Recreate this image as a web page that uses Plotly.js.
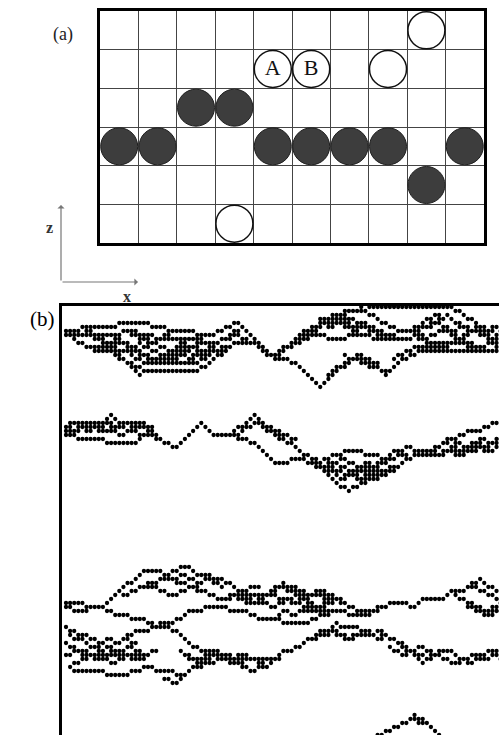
<!DOCTYPE html>
<html><head><meta charset="utf-8">
<script src="https://cdn.plot.ly/plotly-3.0.1.min.js"></script>
<style>html,body{margin:0;padding:0;background:#fff}#chart{width:499px;height:735px}</style>
</head><body><div id="chart"></div>
<script>
// ---------- Panel (a): lattice sites (column, row from bottom) ----------
const filledCol = [0,1,4,5,6,7,9,2,3,8];
const filledRow = [2,2,2,2,2,2,2,3,3,1];
const openCol = [8,4,5,7,3];
const openRow = [5,4,4,4,0];
const openText = ["","A","B","",""];

// ---------- Panel (b): strands [startColumn, startRow, steps] ----------
// steps: '-' same row, 'u' one row up, 'd' one row down (one column per step)
const band1Strands = [
  [0,6,"---u--- -----u---- ---d-- -d-- ----d---- u-u-u- ddddddddd uuu-uu-uu-uuuu --u-----u- ------------------ -d-dd-dd-d-d"],
  [0,7,"-dd-d-d ----- dddddd u---- -------- -u- uu u-u uu ----- ddd --d-- d-d ddddd uuuu u-u u-u d-dd dd uuu u-u -u-- -----------------"],
  [0,7,"----- -d-d ----- dd- d-d ----- uu- --d-- u-u uu- -u- d-d- ddd-"],
  [2,8,"d-d- ---- ddd- d-d- u--- ------ ---- u-u u-u --"],
  [5,6,"-d-- --- -u-- -d-- -d-- -------- -d-- -u-u u-"],
  [10,9,"d-d- -u-u d-d- d--- u-u- -d-d"],
  [14,6,"-d-d-d -u-u -d-d-d -u--"],
  [8,8,"-d-u-d-dd-u-d-d-u-u-d-u-d-"],
  [16,12,"d-u-d-u-d--u-d-u-"],
  [20,8,"d-d-d-d-u-u-u-d-d-"],
  [52,11,"u-uu-u-uu-u-u- ---- d-dd -d-d-- ---- uuu- u-u-u dd-d-d-d-d-d"],
  [56,9,"-u-u-- -d-- --u--- --d--- ----- -u- d-d- ----- --d-- --u--"],
  [60,6,"u-u- uu-- d-d- -d-d -d--"],
  [57,7,"u-u-u-d-u-d-d-u-"],
  [62,3,"-d-u-d-d-u-d-"],
  [72,0,"dd-dd-d -d-- -u-u u-u-"],
  [64,17,"uu-u u--- d-d -d-"],
  [66,15,"-u-u- d-d"],
  [68,12,"d-u-d-d-"],
  [80,13,"u-u-u- ------ -d-- --u--d--u"],
  [85,6,"d-d u-u- -d-d u-u- -d-d-"],
  [86,8,"-d-d--u-u--d-d--u-u"],
  [87,4,"d-u-d-d-u-d-u-d-u-d-"]
];
const band2Strands = [
  [0,30,"-u-- ----- uu dd ------ dd dd d-d- uu uu uu dd d- --- uu- uuu ddd- dd dd-d dd-d d- u-u- -u-- --d-- -d- uu- -u- d- ---- uu- u-u- u--- u-u-"],
  [0,32,"--d--- ---d-- ----- uu- -d-"],
  [40,32,"-d-- d-dd ddd --- u-- -d- d-d ddd d-d u-u -u-- u-u- uuu -u- ---- --u-- ----- u-u--"],
  [0,31,"---u---d--u---d--d---"],
  [3,30,"-d-u--d--d-u-u--d-"],
  [1,29,"-d-u-d--u-d-u-d-u-d-"],
  [42,32,"uu-u-dd-dd-d-"],
  [45,28,"d-dd-d-dd-d"],
  [47,29,"-d-d-d-d-"],
  [60,38,"-dd-u-u-d-dd-u-u--u-u--"],
  [62,40,"-d-dd-u--d-u-u--u-"],
  [64,39,"dd-d-u-u-dd-u--u-"],
  [66,41,"u-d-u-u-d-d-u-"],
  [67,43,"-u-d-u-u-d-"],
  [90,35,"-d-u-d-u-u-d-u-u"],
  [92,34,"u-d-d-u-u-d-u"],
  [88,36,"-d--u-d--u-u-d--u"]
];
const band3Strands = [
  [0,74,"----d---- uuu uu u- uu u- -- -d- u- u-- dd- --d- -d- dd d-- ---- uu-u d-d-d ----d--- d-d -d-- -- u--u --- -d- uu ----- uu --- uu- u dd-d"],
  [0,75,"-d---u--- d-d- --d-- -d- d-- u-u- uu- --u--- --d--- -d-d ---- -d-- ---- u-u-- u-- -d-- --- u-"],
  [14,72,"-u-u--u-u---d--d-d--d-d---u-d--d---"],
  [20,69,"d-d-d--u-u--d-d-d---u-u-u--"],
  [24,67,"-d-u-d-d-u-d-d"],
  [40,72,"-d-d--u-u--d--"],
  [50,71,"-u-d-d-d-u-u-d-d-"],
  [50,75,"-u-u-d-d-d-u-u-"],
  [52,77,"u-d-u--u-d--"],
  [54,73,"d-u-d-d-u-"],
  [56,70,"d-d-u-d-"],
  [95,72,"d-d-d-d-u-u"],
  [97,73,"dd-d-d-u-"],
  [99,70,"-d-d-d-d"],
  [98,75,"-d-d-u-"]
];
const band4Strands = [
  [0,80,"d- ddd d- -d u- u- uu- u- -- u-u- dd-d ddd -d- --d- --d--- ----- -- uu-- u-u u- uu- -uu d---- dd- -u- dd- dd d- dd d uu -u--- dd -d- uu- u--"],
  [1,90,"d- ------ d-- --- u-- u- -d- --- d-- uu-- u-- u-- d-- d-d- u-- uu-"],
  [24,93,"-d-u"],
  [0,84,"d-d--u-d-d--u-u-d-d-u-"],
  [0,87,"-u-d--d-u--u-d-d--u-"],
  [2,89,"-u-u--d-d-u-u--d-"],
  [4,86,"d-d-u-u-d--d-u-"],
  [1,82,"d-u-d-d-u-d-u-d-"],
  [28,86,"d-d--u-u-d-d-u--d-d-u-"],
  [30,88,"-d-u-u--d-d--u-"],
  [61,83,"u-u-d-d-u-u-d-d-"],
  [64,82,"u-d-d-u-u-"],
  [77,82,"-d-d-dd-d-u-"],
  [79,85,"d-d-u-u-d-"],
  [88,88,"-u-d-d--u-u-d--u-d-"]
];
const band5Strands = [
  [76,107,"-u-u-u-uu d-ddd d"],
  [84,103,"-d--d"]
];

function strandDots(list){
  const xs=[], ys=[];
  list.forEach(s=>{
    let c=s[0], r=s[1];
    xs.push(c); ys.push(r);
    for (const ch of s[2]) {
      if (ch===' ') continue;
      c++;
      if (ch==='u') r--; else if (ch==='d') r++;
      xs.push(c); ys.push(r);
    }
  });
  return {xs, ys};
}
const seen = new Set(); const dotX=[], dotY=[];
[band1Strands,band2Strands,band3Strands,band4Strands,band5Strands].forEach(b=>{
  const d = strandDots(b);
  d.xs.forEach((x,i)=>{ const k=x+','+d.ys[i]; if(!seen.has(k)){seen.add(k); dotX.push(x); dotY.push(d.ys[i]);} });
});

const serif = 'Liberation Serif, DejaVu Serif, serif';
const traces = [
  {type:'scatter', mode:'markers', x:filledCol.map(c=>c+0.5), y:filledRow.map(r=>r+0.5),
   xaxis:'x2', yaxis:'y2', hoverinfo:'skip',
   marker:{size:37, color:'#3d3d3d', line:{color:'#1e1e1e', width:1}}},
  {type:'scatter', mode:'markers+text', x:openCol.map(c=>c+0.5), y:openRow.map(r=>r+0.5),
   text:openText, textposition:'middle center', textfont:{family:serif, size:22, color:'#111'},
   xaxis:'x2', yaxis:'y2', hoverinfo:'skip',
   marker:{size:37, color:'#ffffff', line:{color:'#111', width:1.5}}},
  {type:'scatter', mode:'markers', x:dotX, y:dotY, xaxis:'x', yaxis:'y', hoverinfo:'skip',
   marker:{size:4.3, color:'#000'}}
];

const layout = {
  width:499, height:735, margin:{l:0,r:0,t:0,b:0},
  paper_bgcolor:'#fff', plot_bgcolor:'rgba(0,0,0,0)', showlegend:false,
  xaxis2:{domain:[100/499,484/499], anchor:'y2', range:[0,10], dtick:1, showgrid:true, gridcolor:'#444', gridwidth:1,
          zeroline:false, showticklabels:false, ticks:'', showline:true, mirror:true, linecolor:'#000', linewidth:3},
  yaxis2:{domain:[1-243/735,1-11/735], anchor:'x2', range:[0,6], dtick:1, showgrid:true, gridcolor:'#444', gridwidth:1,
          zeroline:false, showticklabels:false, ticks:'', showline:true, mirror:true, linecolor:'#000', linewidth:3},
  xaxis:{domain:[62/499,1], anchor:'y', range:[-0.976,105.6], side:'top', showgrid:false, zeroline:false,
         showticklabels:false, ticks:'', showline:true, linecolor:'#000', linewidth:3},
  yaxis:{domain:[0,1-305.5/735], anchor:'x', range:[107,-0.375], showgrid:false, zeroline:false,
         showticklabels:false, ticks:'', showline:true, linecolor:'#000', linewidth:3},
  annotations:[
    {xref:'paper', yref:'paper', x:51/499, y:1-22/735, text:'(a)', showarrow:false, font:{family:serif,size:18,color:'#222'}},
    {xref:'paper', yref:'paper', x:28/499, y:1-319/735, text:'(b)', showarrow:false, font:{family:serif,size:21,color:'#000'}},
    {xref:'paper', yref:'paper', x:44/499, y:1-217/735, text:'<b>z</b>', showarrow:false, font:{family:serif,size:16,color:'#333'}},
    {xref:'paper', yref:'paper', x:121/499, y:1-296/735, text:'<b>x</b>', showarrow:false, font:{family:serif,size:16,color:'#333'}},
    {xref:'paper', yref:'paper', x:61/499, y:1-205/735, ax:0, ay:77, axref:'pixel', ayref:'pixel', text:'', showarrow:true,
     arrowhead:1, arrowsize:1, arrowwidth:1.2, arrowcolor:'#777'},
    {xref:'paper', yref:'paper', x:138/499, y:1-282/735, ax:-77, ay:0, axref:'pixel', ayref:'pixel', text:'', showarrow:true,
     arrowhead:1, arrowsize:1, arrowwidth:1.2, arrowcolor:'#777'}
  ]
};
Plotly.newPlot('chart', traces, layout, {staticPlot:true, displayModeBar:false});
</script></body></html>
